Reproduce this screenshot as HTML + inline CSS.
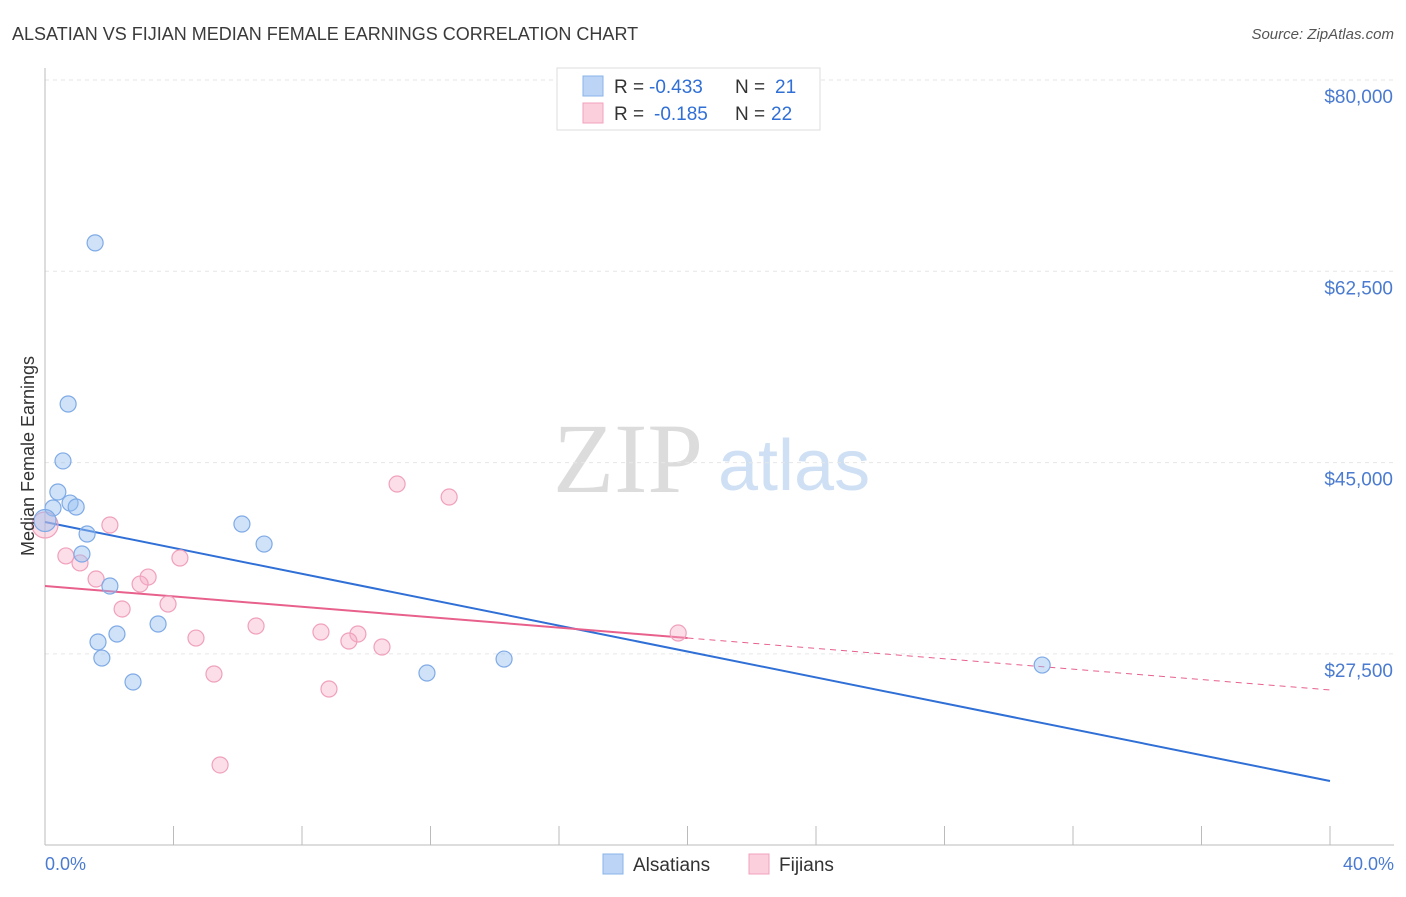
<!DOCTYPE html>
<html><head><meta charset="utf-8"><style>
body{margin:0;background:#fff;font-family:"Liberation Sans",sans-serif;}
svg text{font-family:"Liberation Sans",sans-serif;}
</style></head><body>
<svg id="chart" width="1406" height="892">
<text x="12" y="40" font-size="18" fill="#3a3a3a">ALSATIAN VS FIJIAN MEDIAN FEMALE EARNINGS CORRELATION CHART</text>
<text x="1394" y="39" font-size="15" fill="#555" font-style="italic" text-anchor="end">Source: ZipAtlas.com</text>
<text x="553" y="492" font-size="100" fill="#dcdcdc" style="font-family:'Liberation Serif',serif">ZIP</text>
<text x="718" y="490" font-size="72" fill="#cfe0f5">atlas</text>
<g id="grid"></g><g id="axes"></g><g id="lines"></g><g id="pts"></g>
<text transform="translate(34,456) rotate(-90)" font-size="18" fill="#333" text-anchor="middle">Median Female Earnings</text>
<text x="45" y="870" font-size="18" fill="#4a7bd0">0.0%</text>
<text x="1394" y="870" font-size="18" fill="#4a7bd0" text-anchor="end">40.0%</text>
<g>
<rect x="557" y="68" width="263" height="62" fill="#fff" stroke="#ddd"/>
<rect x="583" y="76" width="20" height="20" fill="#bcd4f6" stroke="#8ab4e8"/>
<rect x="583" y="103" width="20" height="20" fill="#fbcfdc" stroke="#f0a0bc"/>
<text x="614" y="93" font-size="19" fill="#333">R =</text>
<text x="649" y="93" font-size="19" fill="#2f6fd6">-0.433</text>
<text x="735" y="93" font-size="19" fill="#333">N =</text>
<text x="775" y="93" font-size="19" fill="#2f6fd6">21</text>
<text x="614" y="120" font-size="19" fill="#333">R =</text>
<text x="654" y="120" font-size="19" fill="#2f6fd6">-0.185</text>
<text x="735" y="120" font-size="19" fill="#333">N =</text>
<text x="771" y="120" font-size="19" fill="#2f6fd6">22</text>
</g>
<g>
<rect x="603" y="854" width="20" height="20" fill="#bcd4f6" stroke="#8ab4e8"/>
<text x="633" y="871" font-size="19" fill="#333">Alsatians</text>
<rect x="749" y="854" width="20" height="20" fill="#fbcfdc" stroke="#f0a0bc"/>
<text x="779" y="871" font-size="19" fill="#333">Fijians</text>
</g>
</svg>
<script>
const yTicks=[80000,62500,45000,27500];
const yTickLabels=["$80,000","$62,500","$45,000","$27,500"];
const xTicks=[0,4,8,12,16,20,24,28,32,36,40];
const blueX=[1.56,0.72,0.56,0.40,0.78,0.97,0.25,1.31,1.15,2.02,2.24,1.65,1.77,2.74,3.52,6.13,6.82,11.89,14.29,31.04,0];
const blueY=[65100,50360,45150,42310,41300,40940,40850,38470,36640,33710,29320,28590,27120,24930,30235,39380,37550,25750,27030,26480,39700];
const pinkX=[0,2.02,0.65,1.09,4.20,1.59,3.21,2.96,2.40,3.83,4.70,6.57,5.26,5.45,8.59,8.84,9.74,9.46,10.49,10.96,12.58,19.71];
const pinkY=[39290,39290,36460,35820,36270,34350,34530,33890,31610,32060,28950,30050,25660,17340,29500,24290,29320,28680,28130,43040,41850,29410];
const blueTrend=[39566,15870];
const pinkTrend=[33710,24200];
const NS="http://www.w3.org/2000/svg";
const X=v=>45+v*(1285/40);
const Y=v=>80+(80000-v)*(191.3/17500);
function mk(tag,attrs,parent){const e=document.createElementNS(NS,tag);for(const k in attrs)e.setAttribute(k,attrs[k]);document.getElementById(parent).appendChild(e);return e;}
yTicks.forEach((t,i)=>{
 let g=mk('line',{x1:45,x2:1394,y1:Y(t),y2:Y(t),stroke:'#e6e6e6','stroke-dasharray':'4,4'},'grid');
 
 
 let l=mk('text',{x:1393,y:Y(t)+23,'font-size':19,fill:'#4a7bd0','text-anchor':'end'},'grid');
 l.textContent=yTickLabels[i];
 
 
});
let ax=mk('line',{x1:45,x2:1394,y1:845,y2:845,stroke:'#bbb'},'axes');


let ay=mk('line',{x1:45,x2:45,y1:68,y2:845,stroke:'#bbb'},'axes');


xTicks.forEach(t=>{
 let e=mk('line',{x1:X(t),x2:X(t),y1:826,y2:845,stroke:'#bbb'},'axes');
 
 
});
const pm=(pinkTrend[0]+pinkTrend[1])/2;
let bl=mk('line',{x1:X(0),y1:Y(blueTrend[0]),x2:X(40),y2:Y(blueTrend[1]),stroke:'#2f6fd6','stroke-width':2},'lines');


let pl=mk('line',{x1:X(0),y1:Y(pinkTrend[0]),x2:X(20),y2:Y(pm),stroke:'#e8608c','stroke-width':2},'lines');


let pd=mk('line',{x1:X(20),y1:Y(pm),x2:X(40),y2:Y(pinkTrend[1]),stroke:'#e8608c','stroke-width':1,'stroke-dasharray':'6,5'},'lines');


pinkX.forEach((x,i)=>{
 let c=mk('circle',{cx:X(x),cy:Y(pinkY[i]),r:i===0?13:8,fill:'rgba(246,172,198,0.4)',stroke:'#f0a0bc','stroke-width':1.2},'pts');
 
 
});
blueX.forEach((x,i)=>{
 let c=mk('circle',{cx:X(x),cy:Y(blueY[i]),r:i===20?11:8,fill:'rgba(150,190,240,0.45)',stroke:'#7eaae6','stroke-width':1.2},'pts');
 
 
});
</script>
</body></html>
